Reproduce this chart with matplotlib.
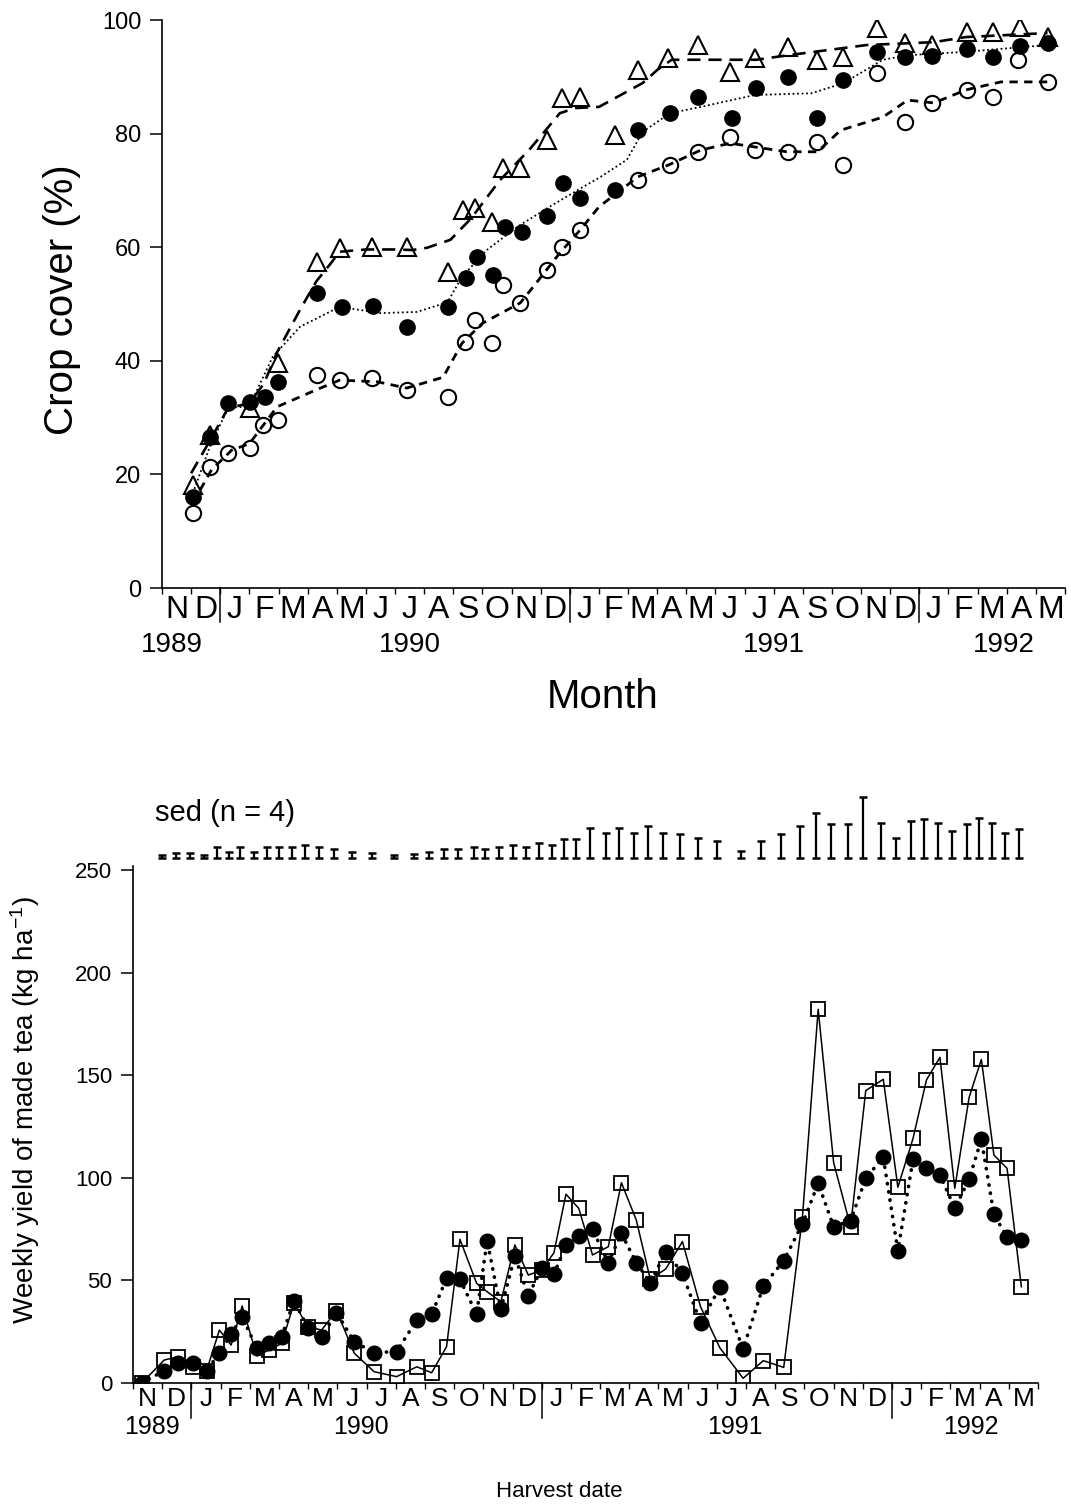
import numpy as np
import matplotlib.pyplot as plt
from matplotlib.transforms import blended_transform_factory

plt.rcParams['font.family'] = ['Liberation Sans', 'DejaVu Sans']
plt.rcParams['mathtext.fontset'] = 'custom'
plt.rcParams['mathtext.rm'] = 'Liberation Sans'
plt.rcParams['mathtext.it'] = 'Liberation Sans:italic'

# x axis: months counted from 1 Nov 1989
month_letters = ['N', 'D', 'J', 'F', 'M', 'A', 'M', 'J', 'J', 'A', 'S', 'O', 'N', 'D',
                 'J', 'F', 'M', 'A', 'M', 'J', 'J', 'A', 'S', 'O', 'N', 'D',
                 'J', 'F', 'M', 'A', 'M']
year_breaks = [2, 14, 26]
years_top = ['1989', '1990', '1991', '1992']
years_top_x = [0.35, 8.5, 21.0, 28.9]
years_bot_x = [0.65, 7.8, 20.6, 28.7]

# ---- crop cover (top panel) ----
tri_x = [1.06, 1.65, 3.02, 3.98, 5.32, 6.11, 7.21, 8.41, 9.82, 10.33, 10.74, 11.33, 11.70,
         12.29, 13.21, 13.73, 14.35, 15.55, 16.34, 17.37, 18.40, 19.50, 20.36, 21.50, 22.48,
         23.38, 24.55, 25.50, 26.43, 27.63, 28.53, 29.45, 30.41]
tri_y = [18.1, 27.0, 31.7, 39.6, 57.4, 59.8, 60.0, 60.0, 55.6, 66.5, 66.9, 64.4, 73.9,
         73.9, 78.9, 86.3, 86.4, 79.8, 91.2, 93.3, 95.6, 90.8, 93.3, 95.2, 93.0,
         93.5, 98.6, 95.9, 95.6, 97.9, 97.9, 98.8, 97.0]

fil_x = [1.06, 1.65, 2.27, 3.02, 3.54, 3.98, 5.32, 6.18, 7.24, 8.41, 9.82, 10.44, 10.81,
         11.36, 11.77, 12.36, 13.21, 13.77, 14.35, 15.55, 16.34, 17.44, 18.40, 19.57, 20.39,
         21.50, 22.48, 23.38, 24.55, 25.50, 26.43, 27.63, 28.53, 29.45, 30.41]
fil_y = [16.0, 26.6, 32.6, 32.8, 33.6, 36.3, 51.9, 49.5, 49.6, 46.0, 49.5, 54.6, 58.3,
         55.1, 63.6, 62.7, 65.5, 71.3, 68.7, 70.1, 80.6, 83.6, 86.4, 82.7, 88.0,
         90.0, 82.7, 89.4, 94.4, 93.5, 93.7, 94.9, 93.5, 95.4, 96.0]

opn_x = [1.06, 1.65, 2.27, 3.02, 3.47, 3.98, 5.32, 6.11, 7.21, 8.41, 9.82, 10.40, 10.74,
         11.33, 11.70, 12.29, 13.21, 13.73, 14.35, 16.34, 17.44, 18.40, 19.50, 20.36, 21.50,
         22.48, 23.38, 24.55, 25.50, 26.43, 27.63, 28.53, 29.40, 30.41]
opn_y = [13.2, 21.3, 23.8, 24.6, 28.7, 29.6, 37.5, 36.6, 37.0, 34.9, 33.6, 43.3, 47.2,
         43.1, 53.3, 50.2, 56.0, 60.0, 63.0, 71.8, 74.5, 76.8, 79.4, 77.1, 76.8,
         78.5, 74.5, 90.7, 82.0, 85.4, 87.7, 86.4, 93.0, 89.1]

# fitted curves
tri_fit_x = [1.0, 1.65, 2.27, 3.0, 3.5, 3.95, 4.74, 5.3, 5.77, 6.1, 7.0, 8.0, 8.6, 9.1, 9.9,
             10.6, 11.6, 12.6, 13.66, 14.2, 15.0, 16.5, 17.0, 17.5, 19.0, 20.4, 21.5, 24.2,
             26.5, 27.6, 30.4]
tri_fit_y = [20.2, 26.0, 31.7, 32.5, 36.0, 41.5, 49.0, 54.0, 57.0, 59.2, 59.6, 59.6, 59.5,
             59.9, 61.3, 65.0, 71.8, 77.1, 83.6, 84.5, 84.7, 88.9, 91.2, 93.0, 93.0, 93.0,
             93.8, 95.6, 96.1, 97.0, 97.7]
fil_fit_x = [1.06, 1.65, 2.27, 3.0, 3.8, 4.74, 6.1, 7.5, 8.75, 9.8, 10.3, 11.15, 12.2, 13.3,
             14.45, 15.0, 15.96, 16.5, 17.44, 18.5, 20.36, 22.3, 23.4, 24.75, 25.6, 27.6, 30.4]
fil_fit_y = [16.7, 25.0, 31.7, 32.0, 40.7, 46.0, 49.5, 48.4, 48.6, 50.3, 54.8, 59.5, 63.6,
             67.1, 70.6, 72.2, 75.4, 80.3, 83.6, 84.7, 86.8, 87.1, 88.9, 93.0, 93.8, 94.4, 95.6]
opn_fit_x = [1.06, 1.7, 2.4, 3.0, 3.95, 5.3, 6.1, 7.4, 8.4, 9.65, 10.3, 11.0, 12.3, 12.74,
             13.66, 14.35, 15.0, 16.34, 17.4, 18.5, 19.5, 21.45, 22.5, 23.3, 24.75, 25.6, 26.5,
             27.6, 28.8, 30.4]
opn_fit_y = [15.0, 20.8, 24.3, 25.4, 31.9, 34.9, 36.6, 36.3, 35.2, 37.1, 43.1, 46.6, 50.2,
             53.0, 59.0, 63.0, 67.1, 72.4, 74.5, 77.1, 78.3, 76.8, 76.8, 80.6, 82.9, 85.9,
             85.4, 87.7, 89.1, 89.1]

# ---- weekly yield (bottom panel) ----
yld_x = [0.30, 1.07, 1.55, 2.04, 2.52, 2.96, 3.36, 3.74, 4.24, 4.66, 5.09, 5.52, 5.98, 6.46,
         6.97, 7.58, 8.26, 9.03, 9.72, 10.23, 10.74, 11.20, 11.77, 12.13, 12.60, 13.08, 13.54,
         14.00, 14.42, 14.83, 15.27, 15.74, 16.28, 16.73, 17.24, 17.72, 18.25, 18.82, 19.44,
         20.10, 20.90, 21.59, 22.29, 22.93, 23.47, 24.00, 24.58, 25.10, 25.70, 26.20, 26.72,
         27.18, 27.64, 28.15, 28.64, 29.06, 29.49, 29.94, 30.43]
sq_y = [0, 11.2, 12.8, 8.0, 6.0, 25.8, 18.5, 37.5, 13.3, 16.1, 19.3, 39.0, 27.5, 25.8, 35.3,
        14.5, 5.5, 3.1, 7.9, 5.0, 17.7, 70.0, 48.6, 44.5, 39.6, 67.3, 52.6, 55.0, 63.5, 92.0,
        85.1, 62.4, 66.4, 97.6, 79.4, 50.5, 55.6, 68.9, 37.2, 17.2, 2.3, 10.9, 7.6, 80.7,
        182.1, 107.4, 76.2, 142.5, 148.0, 95.4, 119.2, 147.7, 158.7, 94.9, 139.2, 157.7,
        111.1, 104.6, 46.9]
dot_y = [0, 6.0, 9.9, 9.9, 6.0, 14.5, 23.9, 32.3, 16.9, 19.3, 22.6, 40.1, 27.0, 22.3, 34.3,
         20.1, 14.8, 15.3, 30.7, 33.5, 51.0, 50.5, 33.5, 69.3, 35.9, 61.9, 42.5, 55.9, 53.0,
         67.3, 71.6, 74.9, 58.6, 72.9, 58.6, 48.9, 64.0, 53.4, 29.4, 46.6, 16.6, 47.3, 59.6,
         77.5, 97.3, 76.2, 79.1, 99.8, 110.0, 64.5, 109.0, 104.6, 101.4, 85.1, 99.3, 118.8,
         82.2, 71.0, 69.7]
sed = [np.nan, 1.5, 2.5, 2.5, 1.5, 5, 3, 5, 3, 5, 5, 5, 6, 5, 4, 3, 2.5, 1.5, 2, 3,
       4, 4, 5, 4, 5, 6, 5, 7, 6, 9, 9, 14.6, 12.2, 14.6, 12.2, 15.4, 12.2, 11.4, 9.7, 8.1,
       3.2, 8.1, 11.4, 15.4, 21.9, 16.2, 16.2, 29.7, 17.1, 9.7, 17.9, 18.7, 17.1, 13.0, 16.2,
       19.5, 17.1, 12.2, 13.8]
sed_base = 256


def month_axis(ax, pad, label_size, year_x, year_y, year_size, sep_len):
    ax.set_xlim(0, 31)
    ax.set_xticks(np.arange(0, 32))
    ax.set_xticks(np.arange(31) + 0.5, minor=True)
    ax.set_xticklabels([])
    ax.set_xticklabels(month_letters, minor=True)
    ax.tick_params(axis='x', which='major', direction='out', length=4, width=1)
    ax.tick_params(axis='x', which='minor', length=0, pad=pad, labelsize=label_size)
    tr = blended_transform_factory(ax.transData, ax.transAxes)
    for b in year_breaks:
        ax.plot([b, b], [0, -sep_len], transform=tr, color='k', lw=1.1, clip_on=False)
    for x, t in zip(year_x, years_top):
        ax.text(x, year_y, t, transform=tr, ha='center', va='center', fontsize=year_size)
    ax.spines['top'].set_visible(False)
    ax.spines['right'].set_visible(False)
    for s in ['left', 'bottom']:
        ax.spines[s].set_linewidth(1.2)
    ax.tick_params(axis='y', direction='out', length=9, width=1.1)


W, H = 1071, 1508
fig = plt.figure(figsize=(W / 100, H / 100), dpi=100)

# top panel
ax1 = fig.add_axes([162 / W, 1 - 588 / H, 903 / W, 568 / H])
ax1.set_ylim(0, 100)
ax1.set_yticks([0, 20, 40, 60, 80, 100])
ax1.tick_params(axis='y', labelsize=17, pad=6)
month_axis(ax1, pad=5, label_size=23, year_x=years_top_x, year_y=-0.1, year_size=20,
           sep_len=0.06)

ax1.plot(tri_fit_x, tri_fit_y, color='k', lw=1.9, linestyle=(0, (5, 3)))
ax1.plot(fil_fit_x, fil_fit_y, color='k', lw=1.3, linestyle=(0, (1, 1.5)))
ax1.plot(opn_fit_x, opn_fit_y, color='k', lw=2.0, linestyle=(0, (3, 2.3)))
ax1.plot(tri_x, tri_y, ls='none', marker='^', ms=13, mfc='none', mec='k', mew=1.5)
ax1.plot(opn_x, opn_y, ls='none', marker='o', ms=11, mfc='none', mec='k', mew=1.5)
ax1.plot(fil_x, fil_y, ls='none', marker='o', ms=11, mfc='k', mec='k')

ax1.text(15.14, -0.192, 'Month', transform=blended_transform_factory(ax1.transData, ax1.transAxes),
         ha='center', va='center', fontsize=29)
fig.text(62 / W, 1 - 300 / H, 'Crop cover (%)', rotation=90, ha='center', va='center',
         fontsize=29)

# bottom panel
ax2 = fig.add_axes([133 / W, 1 - 1383 / H, 905 / W, 615.6 / H])
ax2.set_ylim(0, 300)
ax2.set_yticks([0, 50, 100, 150, 200, 250])
ax2.spines['left'].set_bounds(0, 252)
ax2.tick_params(axis='y', labelsize=16, pad=6)
month_axis(ax2, pad=3, label_size=19, year_x=years_bot_x, year_y=-0.071, year_size=18,
           sep_len=0.057)

ax2.plot(yld_x, dot_y, color='k', lw=2.6, linestyle=(0, (0.1, 2.2)), dash_capstyle='round',
         marker='o', ms=10.5, mfc='k', mec='k')
ax2.plot(yld_x, sq_y, color='k', lw=1.1, marker='s', ms=10, mfc='none', mec='k', mew=1.3)

sed_x = [x - 0.08 for x, s in zip(yld_x, sed) if not np.isnan(s)]
sed_v = [s for s in sed if not np.isnan(s)]
sed_top = [sed_base + s for s in sed_v]
ax2.vlines(sed_x, sed_base, sed_top, color='k', lw=1.6)
ax2.plot(sed_x, [sed_base] * len(sed_x), ls='none', marker='_', ms=6, mew=1.8, color='k')
ax2.plot(sed_x, sed_top, ls='none', marker='_', ms=6, mew=1.8, color='k')
ax2.text(0.75, 278, 'sed (n = 4)', ha='left', va='center', fontsize=21)

ax2.text(14.6, -0.177, 'Harvest date', transform=blended_transform_factory(ax2.transData, ax2.transAxes),
         ha='center', va='center', fontsize=16)
fig.text(25 / W, 1 - 1110 / H, 'Weekly yield of made tea (kg ha$^{-1}$)', rotation=90,
         ha='center', va='center', fontsize=20)

fig.savefig('out.png', dpi=100)
